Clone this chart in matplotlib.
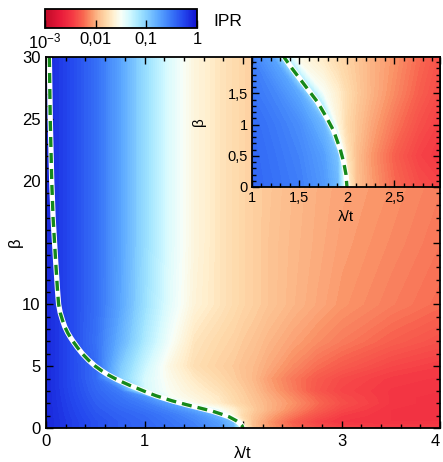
import numpy as np
import matplotlib
matplotlib.use("Agg")
import matplotlib.pyplot as plt
from matplotlib.colors import LinearSegmentedColormap, LogNorm
from matplotlib.cm import ScalarMappable
from matplotlib.ticker import MultipleLocator, NullLocator

plt.rcParams['font.family'] = ['Liberation Sans', 'DejaVu Sans']
plt.rcParams['mathtext.fontset'] = 'custom'
plt.rcParams['mathtext.rm'] = 'Liberation Sans'
plt.rcParams['mathtext.it'] = 'Liberation Sans:italic'

# ---------------- data ----------------
lam = [0, 0.25, 0.5, 0.75, 1.0, 1.25, 1.5, 1.75, 1.9, 2.0, 2.1, 2.25, 2.5, 2.75, 3.0, 3.5, 4.0]
beta = [0, 0.5, 1, 1.5, 2, 2.5, 3, 4, 5, 7, 10, 15, 20, 30]
# log10(IPR), one row per beta value
log_ipr = [
    [-0.12, -0.22, -0.32, -0.38, -0.42, -0.48, -0.55, -0.68, -0.85, -1.60, -1.92, -2.06, -2.24, -2.36, -2.42, -2.45, -2.45],
    [-0.12, -0.22, -0.32, -0.38, -0.43, -0.50, -0.58, -0.72, -0.92, -1.72, -1.93, -2.08, -2.28, -2.42, -2.48, -2.50, -2.50],
    [-0.12, -0.23, -0.34, -0.40, -0.45, -0.53, -0.63, -0.85, -1.60, -1.80, -1.90, -2.03, -2.20, -2.35, -2.45, -2.50, -2.52],
    [-0.12, -0.24, -0.36, -0.43, -0.50, -0.60, -0.78, -1.50, -1.66, -1.78, -1.87, -1.98, -2.13, -2.28, -2.40, -2.50, -2.52],
    [-0.12, -0.25, -0.38, -0.47, -0.55, -0.75, -1.55, -1.68, -1.78, -1.84, -1.89, -1.98, -2.10, -2.24, -2.36, -2.48, -2.52],
    [-0.12, -0.26, -0.40, -0.50, -0.65, -1.50, -1.60, -1.70, -1.80, -1.85, -1.91, -2.00, -2.13, -2.27, -2.38, -2.48, -2.52],
    [-0.12, -0.27, -0.42, -0.55, -1.35, -1.52, -1.64, -1.74, -1.82, -1.87, -1.93, -2.03, -2.17, -2.32, -2.41, -2.48, -2.50],
    [-0.12, -0.28, -0.45, -1.00, -1.35, -1.55, -1.70, -1.80, -1.86, -1.91, -1.96, -2.06, -2.19, -2.30, -2.38, -2.46, -2.48],
    [-0.12, -0.28, -0.45, -0.95, -1.30, -1.58, -1.76, -1.84, -1.88, -1.92, -1.95, -2.02, -2.13, -2.23, -2.30, -2.40, -2.45],
    [-0.12, -0.28, -0.48, -0.82, -1.18, -1.48, -1.72, -1.80, -1.84, -1.88, -1.91, -1.97, -2.05, -2.12, -2.18, -2.28, -2.35],
    [-0.12, -0.28, -0.46, -0.75, -1.10, -1.40, -1.62, -1.72, -1.78, -1.82, -1.85, -1.90, -1.97, -2.03, -2.09, -2.17, -2.24],
    [-0.12, -0.28, -0.46, -0.74, -1.08, -1.38, -1.60, -1.72, -1.78, -1.82, -1.85, -1.90, -1.96, -2.01, -2.06, -2.13, -2.20],
    [-0.12, -0.28, -0.46, -0.74, -1.08, -1.38, -1.60, -1.72, -1.78, -1.82, -1.85, -1.89, -1.95, -2.00, -2.04, -2.10, -2.17],
    [-0.12, -0.28, -0.46, -0.74, -1.08, -1.38, -1.60, -1.72, -1.78, -1.82, -1.85, -1.88, -1.94, -1.98, -2.02, -2.08, -2.15],
]
# critical line (lambda/t, beta)
curve_lam = [0.034, 0.043, 0.058, 0.072, 0.098, 0.118, 0.128, 0.145, 0.168, 0.19, 0.22, 0.25,
             0.275, 0.32, 0.37, 0.43, 0.50, 0.57, 0.63, 0.70, 0.78, 0.85, 0.93, 1.02, 1.12,
             1.28, 1.42, 1.57, 1.69, 1.79, 1.86, 1.93, 1.965, 1.99, 2.0]
curve_beta = [30, 25, 20, 17, 13.5, 11, 10, 9.3, 8.7, 8.2, 7.7, 7.3,
              7.0, 6.5, 6.0, 5.5, 5.0, 4.6, 4.3, 4.0, 3.7, 3.45, 3.2, 2.9, 2.6,
              2.2, 1.9, 1.6, 1.36, 1.1, 0.9, 0.6, 0.4, 0.2, 0.0]

cbar_ticks = [1e-3, 1e-2, 1e-1, 1]
cbar_labels = ['$10^{-3}$', '0,01', '0,1', '1']
main_xticks = [0, 1, 2, 3, 4]
main_xlabels = ['0', '1', '', '3', '4']
main_yticks = [0, 5, 10, 15, 20, 25, 30]
main_ylabels = ['0', '5', '10', '', '20', '25', '30']
ins_xticks = [1, 1.5, 2, 2.5]
ins_xlabels = ['1', '1,5', '2', '2,5']
ins_yticks = [0, 0.5, 1, 1.5]
ins_ylabels = ['0', '0,5', '1', '1,5']

# ---------------- colormap ----------------
cmap = LinearSegmentedColormap.from_list('ipr', [
    (0.00, '#c00a28'), (0.10, '#e81a3a'), (0.18, '#f53a44'), (0.25, '#f86650'),
    (0.30, '#fa9468'), (0.35, '#fcbc8c'), (0.40, '#fed9aa'), (0.45, '#fff0d0'),
    (0.50, '#f8fff8'), (0.56, '#d0f8ff'), (0.62, '#a4e6ff'), (0.67, '#86d0ff'),
    (0.75, '#5aa6ff'), (0.83, '#3a78f8'), (0.91, '#2448ee'), (1.00, '#1212d0')])

W, H = 443, 462
fig = plt.figure(figsize=(W / 100, H / 100), dpi=100)


def px_axes(l, t, r, b):
    return fig.add_axes([l / W, 1 - b / H, (r - l) / W, (b - t) / H])


Z = np.array(log_ipr)
levels = np.linspace(-3, 0, 121)
green = '#15891a'


def draw(ax):
    ax.contourf(lam, beta, Z, levels=levels, cmap=cmap, vmin=-3, vmax=0,
                antialiased=False, extend='both')
    ax.plot(curve_lam, curve_beta, color='white', lw=3.8, solid_capstyle='butt')
    ax.plot(curve_lam, curve_beta, color=green, lw=2.4, dashes=(3.0, 1.8))
    ax.tick_params(which='both', direction='in', top=True, right=True, width=1, colors='black')
    for s in ax.spines.values():
        s.set_linewidth(1.3)


# main axes
ax = px_axes(46, 57, 440, 428)
draw(ax)
ax.set_xlim(0, 4)
ax.set_ylim(0, 30)
ax.set_xticks(main_xticks)
ax.set_xticklabels(main_xlabels)
ax.set_yticks(main_yticks)
ax.set_yticklabels(main_ylabels)
ax.xaxis.set_minor_locator(MultipleLocator(0.2))
ax.yaxis.set_minor_locator(MultipleLocator(1))
ax.tick_params(which='major', length=5, labelsize=12, pad=4)
ax.tick_params(which='minor', length=3)
ax.get_xticklabels()[-1].set_horizontalalignment('right')
ax.set_xlabel('λ/t', fontsize=12)
ax.set_ylabel('β', fontsize=12)
ax.xaxis.set_label_coords(0.5, -0.048)
ax.yaxis.set_label_coords(-0.058, 0.5)

# inset
ai = px_axes(252, 57, 440, 187)
draw(ai)
ai.set_xlim(1, 2.98)
ai.set_ylim(0, 2.08)
ai.set_xticks(ins_xticks)
ai.set_xticklabels(ins_xlabels)
ai.set_yticks(ins_yticks)
ai.set_yticklabels(ins_ylabels)
ai.xaxis.set_minor_locator(MultipleLocator(0.1))
ai.yaxis.set_minor_locator(MultipleLocator(0.1))
ai.tick_params(which='major', length=5, labelsize=10.5, pad=3)
ai.tick_params(which='minor', length=3)
ai.set_xlabel('λ/t', fontsize=11)
ai.set_ylabel('β', fontsize=11)
ai.xaxis.set_label_coords(0.5, -0.18)
ai.yaxis.set_label_coords(-0.245, 0.5)

# colorbar
cax = px_axes(45, 9, 197, 27.5)
sm = ScalarMappable(norm=LogNorm(1e-3, 1), cmap=cmap)
cb = fig.colorbar(sm, cax=cax, orientation='horizontal')
cb.set_ticks(cbar_ticks)
cb.set_ticklabels(cbar_labels)
cax.xaxis.set_minor_locator(NullLocator())
cax.tick_params(direction='in', length=6, width=1, labelsize=12, pad=3)
cb.outline.set_linewidth(1.3)
fig.text(213 / W, 1 - 21 / H, 'IPR', fontsize=12.5, ha='left', va='center')

fig.savefig('out.png', dpi=100)
